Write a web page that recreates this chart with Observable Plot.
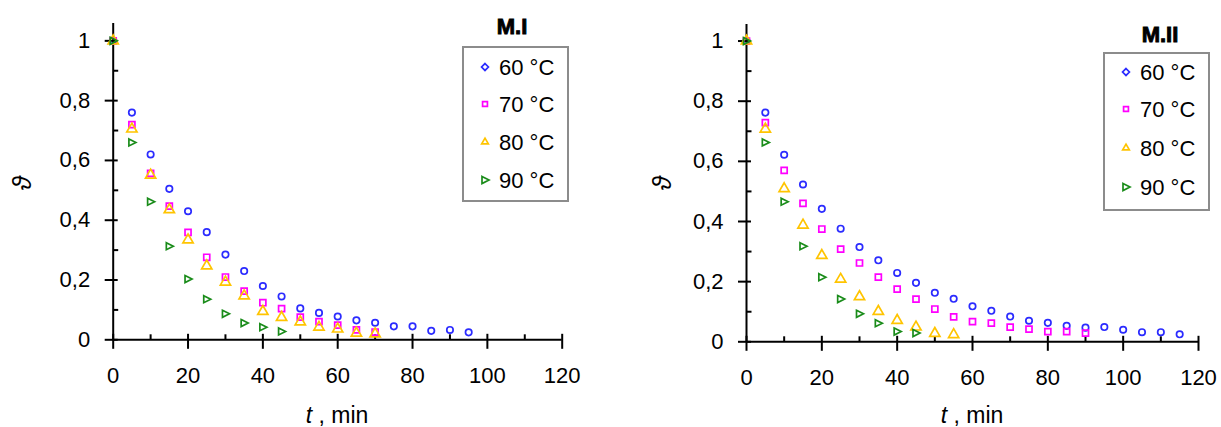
<!DOCTYPE html>
<html>
<head>
<meta charset="utf-8">
<script src="https://cdn.jsdelivr.net/npm/d3@7"></script>
<script src="https://cdn.jsdelivr.net/npm/@observablehq/plot@0.6"></script>
<style>
  html, body { margin: 0; padding: 0; background: #fff; }
  #wrap { position: relative; width: 1221px; height: 427px; overflow: hidden; }
  .panel { position: absolute; top: 0; width: 610px; height: 427px; }
</style>
</head>
<body>
<div id="wrap">
  <div class="panel" id="left" style="left:0px"></div>
  <div class="panel" id="right" style="left:610px"></div>
</div>
<script>
// ---- data ----
const timesMin = [0, 5, 10, 15, 20, 25, 30, 35, 40, 45, 50, 55, 60, 65, 70, 75, 80, 85, 90, 95, 100, 105, 110, 115];
const seriesNames = ["60 °C", "70 °C", "80 °C", "90 °C"];
const xTicks = [0, 20, 40, 60, 80, 100, 120];
const xMinorTicks = [10, 30, 50, 70, 90, 110];
const yTicks = [0, 0.2, 0.4, 0.6, 0.8, 1];
const yMinorTicks = [0.1, 0.3, 0.5, 0.7, 0.9];

// M.I
const mI_60 = [1, 0.76, 0.62, 0.505, 0.43, 0.36, 0.285, 0.23, 0.18, 0.145, 0.105, 0.09, 0.078, 0.065, 0.057, 0.045, 0.045, 0.03, 0.033, 0.025];
const mI_70 = [1, 0.72, 0.557, 0.447, 0.359, 0.276, 0.21, 0.163, 0.124, 0.104, 0.076, 0.061, 0.049, 0.033, 0.026];
const mI_80 = [1, 0.705, 0.551, 0.435, 0.334, 0.247, 0.193, 0.147, 0.095, 0.075, 0.06, 0.042, 0.036, 0.022, 0.02];
const mI_90 = [1, 0.66, 0.462, 0.313, 0.203, 0.136, 0.087, 0.056, 0.042, 0.028];

// M.II
const mII_60 = [1, 0.762, 0.622, 0.523, 0.442, 0.376, 0.315, 0.271, 0.229, 0.196, 0.163, 0.143, 0.118, 0.103, 0.084, 0.07, 0.063, 0.053, 0.047, 0.049, 0.04, 0.032, 0.032, 0.025];
const mII_70 = [1, 0.729, 0.57, 0.46, 0.375, 0.308, 0.262, 0.215, 0.175, 0.142, 0.109, 0.083, 0.067, 0.062, 0.049, 0.042, 0.034, 0.034, 0.029];
const mII_80 = [1, 0.707, 0.509, 0.388, 0.287, 0.208, 0.15, 0.101, 0.071, 0.049, 0.028, 0.024];
const mII_90 = [1, 0.663, 0.466, 0.318, 0.215, 0.142, 0.093, 0.062, 0.034, 0.029];

// ---- styles ----
const colors = ["#2b2bff", "#ff00ff", "#ffc400", "#1a8c1a"];
const triRight = { draw(c) { c.moveTo(-3, -3.5); c.lineTo(4, 0); c.lineTo(-3, 3.5); c.closePath(); } };
const symbols = ["circle", "square", "triangle", triRight];
const radii = [3.2, 3.4, 3.8, 3];
const tickXMajor = { draw(c) { c.moveTo(0, -6); c.lineTo(0, 9); } };
const tickXMinor = { draw(c) { c.moveTo(0, -5.5); c.lineTo(0, 0); } };
const tickYMajor = { draw(c) { c.moveTo(-8.5, 0); c.lineTo(4.5, 0); } };
const tickYMinor = { draw(c) { c.moveTo(0, 0); c.lineTo(5, 0); } };
const fmt = d => d === 0 ? "0" : d === 1 ? "1" : d.toFixed(1).replace(".", ",");
const FONT = "'Liberation Sans', Arial, sans-serif";

function toRows(series) {
  const rows = [];
  series.forEach((vals, s) => vals.forEach((v, i) => rows.push({ t: timesMin[i], v, s })));
  return rows;
}

function makeChart(el, series, cfg) {
  const rows = toRows(series);
  const marks = [
    Plot.ruleY([0], { stroke: "black", strokeWidth: 2 }),
    Plot.ruleX([0], { stroke: "black", strokeWidth: 2 }),
    Plot.dot(xTicks, { x: d => d, y: 0, symbol: tickXMajor, stroke: "black", strokeWidth: 2, fill: "none" }),
    Plot.dot(xMinorTicks, { x: d => d, y: 0, symbol: tickXMinor, stroke: "black", strokeWidth: 2, fill: "none" }),
    Plot.dot(yTicks, { x: 0, y: d => d, symbol: tickYMajor, stroke: "black", strokeWidth: 2, fill: "none" }),
    Plot.dot(yMinorTicks, { x: 0, y: d => d, symbol: tickYMinor, stroke: "black", strokeWidth: 2, fill: "none" }),
    Plot.axisX(xTicks, { tickSize: 0, tickPadding: 28, label: null, fontSize: 22 }),
    Plot.axisY(yTicks, { tickSize: 0, tickPadding: 23, label: null, tickFormat: fmt, fontSize: 22 })
  ];
  series.forEach((_, s) => {
    marks.push(Plot.dot(rows.filter(r => r.s === s), {
      x: "t", y: "v", symbol: symbols[s], r: radii[s], stroke: colors[s], strokeWidth: 1.7, fill: "none"
    }));
  });
  const svg = Plot.plot({
    width: 610, height: 427,
    marginLeft: cfg.ml, marginRight: cfg.mr, marginTop: cfg.mt, marginBottom: cfg.mb,
    x: { domain: [0, 120], axis: null },
    y: { domain: [0, cfg.ytop], axis: null },
    style: { fontFamily: FONT, fontSize: "22px", color: "black", background: "white" },
    marks
  });
  const g = d3.select(svg);
  // x-axis title
  const xt = g.append("text").attr("x", cfg.xtx).attr("y", 423).attr("text-anchor", "middle")
    .attr("font-family", FONT).attr("font-size", 23).attr("fill", "black");
  xt.append("tspan").attr("font-style", "italic").text("t");
  xt.append("tspan").text(" , min");
  // y-axis title
  g.append("text").attr("transform", `translate(${cfg.ytx},183) rotate(-90)`)
    .attr("text-anchor", "middle").attr("dominant-baseline", "central")
    .attr("font-family", FONT).attr("font-style", "italic").attr("font-size", 26).attr("fill", "black")
    .text("ϑ");
  // legend
  const L = cfg.legend;
  g.append("text").attr("x", L.titleX).attr("y", L.titleY).attr("text-anchor", "middle")
    .attr("dominant-baseline", "central").attr("font-family", FONT).attr("font-weight", "bold")
    .attr("font-size", 22).attr("fill", "black").attr("stroke", "black").attr("stroke-width", 0.9)
    .text(cfg.title);
  g.append("rect").attr("x", L.x0).attr("y", L.y0).attr("width", L.x1 - L.x0).attr("height", L.y1 - L.y0)
    .attr("fill", "white").attr("stroke", "#8c8c8c").attr("stroke-width", 2);
  const legSyms = [d3.symbolDiamond2, d3.symbolSquare2, d3.symbolTriangle2, triRight];
  const legSizes = [30, 30, 32, 30];
  seriesNames.forEach((name, i) => {
    g.append("path").attr("d", d3.symbol(legSyms[i], legSizes[i])())
      .attr("transform", `translate(${L.mx},${L.rows[i]})`)
      .attr("fill", "none").attr("stroke", colors[i]).attr("stroke-width", 1.7);
    g.append("text").attr("x", L.tx).attr("y", L.rows[i]).attr("dominant-baseline", "central")
      .attr("text-anchor", "start")
      .attr("font-family", FONT).attr("font-size", 22).attr("fill", "black").text(name);
  });
  el.appendChild(svg);
}

makeChart(document.getElementById("left"), [mI_60, mI_70, mI_80, mI_90], {
  ml: 112.7, mr: 48.3, mt: 23, mb: 87.7, ytop: 1.058, xtx: 337, ytx: 22, title: "M.I",
  legend: { titleX: 512, titleY: 26, x0: 463, y0: 47, x1: 568, y1: 201, mx: 485, tx: 499, rows: [67, 104, 142, 180] }
});
makeChart(document.getElementById("right"), [mII_60, mII_70, mII_80, mII_90], {
  ml: 136, mr: 22, mt: 24, mb: 85.7, ytop: 1.055, xtx: 362, ytx: 52, title: "M.II",
  legend: { titleX: 550, titleY: 34, x0: 494, y0: 53, x1: 599, y1: 210, mx: 516, tx: 530, rows: [72, 109, 148, 187] }
});
</script>
</body>
</html>
